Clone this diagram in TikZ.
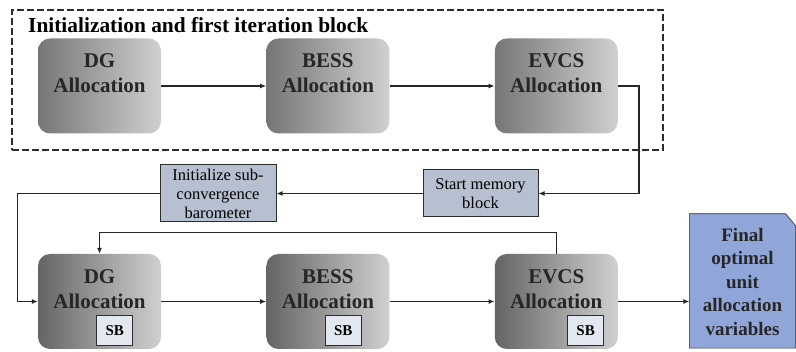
\documentclass[tikz,border=0pt]{standalone}
\usepackage{fontspec}
\setmainfont{Liberation Serif}
\usetikzlibrary{arrows.meta, positioning, backgrounds}
\definecolor{boxdark}{RGB}{118,118,118}
\definecolor{boxlight}{RGB}{208,208,208}
\definecolor{memfill}{RGB}{183,192,208}
\definecolor{sbfill}{RGB}{226,231,240}
\definecolor{finfill}{RGB}{145,166,216}
\definecolor{framecol}{RGB}{45,45,45}

\begin{document}
\begin{tikzpicture}[
  x=1pt, y=1pt,
  node distance=105pt,
  alloc/.style={rectangle, rounded corners=12pt, left color=boxdark, right color=boxlight, minimum width=123pt, minimum height=95pt, align=center, text=black!85, font=\fontsize{21}{25}\selectfont\bfseries},
  memo/.style={rectangle, draw=framecol, fill=memfill, line width=1pt, align=center, inner sep=2pt, font=\fontsize{16.5}{19}\selectfont},
  sbox/.style={rectangle, draw=framecol, fill=sbfill, line width=0.8pt, minimum width=36pt, minimum height=30pt, inner sep=0pt, font=\fontsize{15}{16}\selectfont\bfseries},
  flow/.style={-{Latex[length=6pt,width=5pt]}, line width=1.3pt, draw=black!85}
]
  \useasboundingbox (0,0) rectangle (796,-352);

  % first iteration block
  \node[draw=framecol, dashed, dash pattern=on 7pt off 3pt, line width=1.6pt, minimum width=651pt, minimum height=140pt] (initblock) at (337.5,-80) {};
  \node[anchor=base west, inner sep=0pt, font=\fontsize{21.4}{23}\selectfont\bfseries] (title) at (28,-33) {Initialization and first iteration block};

  \node[alloc] (dg1) at (99.5,-86) {DG\\Allocation\\\phantom{A}};
  \node[alloc, right=of dg1] (bess1) {BESS\\Allocation\\\phantom{A}};
  \node[alloc, right=of bess1] (evcs1) {EVCS\\Allocation\\\phantom{A}};

  % memory and barometer
  \node[memo, minimum width=115pt, minimum height=47pt] (mem) at (480.5,-193.5) {Start memory\\block};
  \node[memo, minimum width=116pt, minimum height=57pt] (init) at (218,-193.5) {Initialize sub-\\convergence\\barometer};

  % second row
  \node[alloc, left color=boxdark!85!black] (dg2) at (99.5,-301.5) {DG\\Allocation\\\phantom{A}};
  \node[alloc, left color=boxdark!85!black, right=of dg2] (bess2) {BESS\\Allocation\\\phantom{A}};
  \node[alloc, left color=boxdark!85!black, right=of bess2] (evcs2) {EVCS\\Allocation\\\phantom{A}};

  \node[sbox, anchor=south east] (sb1) at ([xshift=-28pt, yshift=3pt]dg2.south east) {SB};
  \node[sbox, anchor=south east] (sb2) at ([xshift=-28pt, yshift=3pt]bess2.south east) {SB};
  \node[sbox, anchor=south east] (sb3) at ([xshift=-14pt, yshift=3pt]evcs2.south east) {SB};

  % final output
  \node[minimum width=106pt, minimum height=140pt, align=center, text=black!85, font=\fontsize{19}{23.5}\selectfont\bfseries] (fin) at (742.5,-282) {Final\\optimal\\unit\\allocation\\variables};
  \begin{scope}[on background layer]
    \filldraw[fill=finfill, draw=framecol, line width=0.6pt] ([yshift=4pt]fin.south west) -- ([yshift=-2pt]fin.north west) -- ([xshift=-10pt, yshift=-2pt]fin.north east) -- ([yshift=-14pt]fin.north east) -- ([yshift=4pt]fin.south east) -- cycle;
  \end{scope}

  % connectors
  \draw[flow] (dg1) -- (bess1);
  \draw[flow] (bess1) -- (evcs1);
  \draw[flow] (evcs1.east) -- ++(21,0) |- (mem.east);
  \draw[flow] (mem.west) -- (init.east);
  \draw[flow] (init.west) -- ++(-142,0) |- (dg2.west);
  \draw[flow] (dg2) -- (bess2);
  \draw[flow] (bess2) -- (evcs2);
  \draw[flow] (evcs2.north) -- ++(0,21) -| (dg2.north);
  \draw[flow] (evcs2.east) -- (evcs2.east -| fin.west);
\end{tikzpicture}
\end{document}
